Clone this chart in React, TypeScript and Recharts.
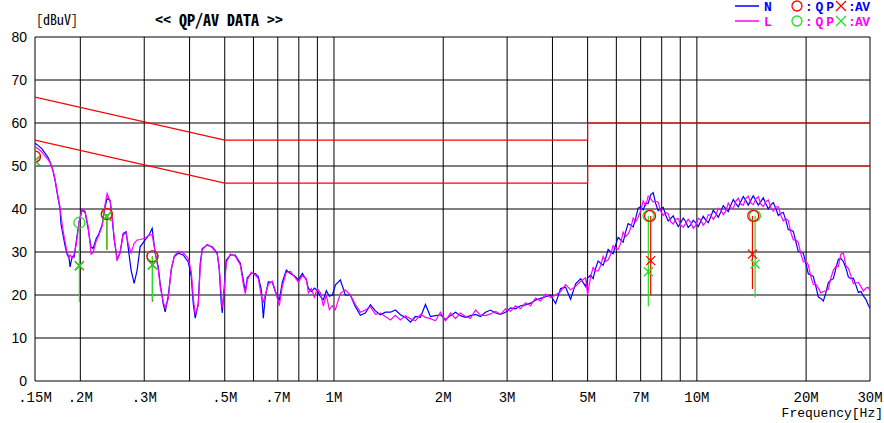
import { ComposedChart, Line, Scatter, XAxis, YAxis, CartesianGrid } from 'recharts';

// measured trace (MHz / dBuV)
const freqMHz = [
  0.15, 0.1529, 0.1568, 0.1598, 0.1629, 0.165, 0.1682, 0.1703, 0.1736, 0.1758,
  0.1769, 0.1792, 0.1815, 0.1838, 0.1862, 0.1874, 0.1898, 0.1922, 0.1946, 0.1984,
  0.2023, 0.2061, 0.2101, 0.2127, 0.2141, 0.2168, 0.221, 0.2252, 0.2296, 0.234,
  0.237, 0.2416, 0.2447, 0.2478, 0.2526, 0.2574, 0.2623, 0.2674, 0.2708, 0.276,
  0.2814, 0.2868, 0.2923, 0.3018, 0.3096, 0.3155, 0.3216, 0.3278, 0.3319, 0.3383,
  0.3426, 0.3492, 0.356, 0.3628, 0.3721, 0.3841, 0.3966, 0.4043, 0.4094, 0.4146,
  0.4226, 0.428, 0.4335, 0.4474, 0.4619, 0.4768, 0.4829, 0.4891, 0.4922, 0.4985,
  0.5049, 0.5179, 0.5346, 0.5519, 0.5625, 0.5697, 0.577, 0.5917, 0.607, 0.6187,
  0.6306, 0.6387, 0.6468, 0.6592, 0.6762, 0.6892, 0.7069, 0.7205, 0.7391, 0.7581,
  0.7825, 0.7975, 0.8181, 0.8391, 0.8498, 0.8662, 0.8828, 0.8999, 0.9171, 0.9347,
  0.9527, 0.971, 0.9898, 1.0088, 1.0413, 1.0749, 1.1096, 1.1454, 1.1824, 1.2205,
  1.2599, 1.3006, 1.3425, 1.3859, 1.4306, 1.4768, 1.5244, 1.5736, 1.6244, 1.6768,
  1.7309, 1.7868, 1.8444, 1.904, 1.9654, 2.0288, 2.0943, 2.1619, 2.2316, 2.3036,
  2.378, 2.4547, 2.5339, 2.6157, 2.7001, 2.7872, 2.8771, 2.97, 3.0658, 3.1647,
  3.2668, 3.3722, 3.481, 3.5933, 3.7093, 3.829, 3.9525, 4.08, 4.2117, 4.3476,
  4.4879, 4.6327, 4.7822, 4.9365, 5.0, 5.0958, 5.1775, 5.2602, 5.3445, 5.4299,
  5.5169, 5.6051, 5.695, 5.786, 5.8787, 5.9727, 6.0684, 6.1654, 6.2642, 6.3643,
  6.4663, 6.5697, 6.675, 6.7817, 6.8904, 7.0005, 7.1127, 7.2264, 7.3422, 7.4596,
  7.5792, 7.7003, 7.8237, 7.9487, 8.0761, 8.2052, 8.3367, 8.47, 8.6058, 8.7433,
  8.8834, 9.0254, 9.1701, 9.3166, 9.4659, 9.6172, 9.7714, 9.9276, 10.087, 10.248,
  10.412, 10.578, 10.748, 10.92, 11.095, 11.272, 11.453, 11.636, 11.823, 12.011,
  12.204, 12.399, 12.598, 12.799, 13.004, 13.212, 13.424, 13.638, 13.857, 14.078,
  14.304, 14.532, 14.765, 15.001, 15.241, 15.485, 15.733, 15.985, 16.241, 16.501,
  16.766, 17.033, 17.306, 17.583, 17.865, 18.15, 18.441, 18.736, 19.036, 19.341,
  19.651, 19.965, 20.285, 20.609, 20.939, 21.274, 21.615, 21.96, 22.312, 22.669,
  23.032, 23.4, 23.775, 24.155, 24.542, 24.935, 25.335, 25.739, 26.152, 26.57,
  26.996, 27.427, 27.867, 28.312, 28.766, 29.226, 29.694, 30.0,
];

const levelN = [
  55.3, 54.8, 54.0, 53.0, 52.0, 51.0, 48.8, 46.7, 42.5, 40.0,
  36.5, 34.0, 31.5, 29.5, 28.5, 26.5, 29.0, 28.8, 32.0, 37.0,
  39.8, 39.2, 35.5, 32.5, 31.2, 30.8, 33.0, 34.3, 36.3, 40.5,
  42.5, 42.0, 38.0, 33.0, 28.3, 29.8, 34.3, 34.7, 31.2, 25.8,
  22.7, 25.8, 31.2, 32.8, 34.0, 35.5, 29.7, 26.6, 22.7, 18.0,
  16.1, 19.7, 25.8, 28.9, 29.7, 29.3, 27.7, 24.3, 18.0, 14.6,
  18.0, 27.4, 30.8, 31.6, 31.2, 29.7, 25.8, 18.0, 15.8, 22.0,
  28.1, 29.3, 29.3, 27.4, 23.5, 20.8, 24.0, 25.0, 25.0, 24.3,
  21.2, 14.6, 19.7, 23.1, 22.9, 20.8, 18.8, 23.0, 25.8, 25.0,
  24.3, 23.5, 25.0, 23.5, 21.6, 20.8, 21.6, 21.0, 19.7, 18.9,
  21.0, 19.7, 20.0, 22.3, 23.5, 20.0, 20.0, 17.3, 15.3, 15.8,
  17.7, 16.3, 15.4, 16.0, 16.0, 16.5, 15.4, 14.8, 13.7, 15.0,
  14.8, 17.8, 15.0, 15.2, 15.4, 14.3, 15.2, 16.0, 15.2, 14.8,
  15.2, 15.5, 15.0, 16.0, 16.5, 15.8, 15.5, 16.0, 17.0, 16.8,
  17.5, 17.7, 18.1, 18.8, 19.2, 19.6, 20.0, 18.0, 21.5, 21.8,
  19.0, 22.6, 23.8, 22.0, 24.0, 24.6, 23.8, 26.2, 27.9, 27.4,
  26.9, 28.5, 30.6, 30.0, 29.6, 31.6, 33.4, 32.8, 32.3, 34.7,
  36.6, 36.3, 35.8, 37.8, 40.2, 40.5, 39.8, 41.3, 41.3, 43.3,
  43.8, 41.3, 39.6, 40.1, 40.4, 38.6, 37.2, 37.8, 38.4, 37.1,
  35.9, 36.8, 37.9, 37.1, 35.7, 36.3, 37.4, 36.8, 35.9, 37.1,
  38.3, 37.4, 36.8, 38.2, 39.7, 39.0, 38.1, 39.3, 40.8, 40.1,
  39.4, 40.9, 42.2, 41.3, 40.5, 41.7, 42.9, 42.0, 40.9, 42.0,
  43.1, 42.0, 40.9, 41.7, 42.6, 41.3, 40.0, 40.9, 41.5, 40.1,
  38.5, 39.0, 39.2, 37.4, 35.2, 35.1, 34.8, 32.4, 30.1, 30.0,
  29.7, 27.4, 24.9, 24.7, 24.3, 22.0, 19.5, 19.2, 18.6, 20.5,
  22.9, 23.5, 23.8, 26.2, 28.3, 28.5, 27.8, 26.3, 24.2, 23.8,
  23.9, 22.3, 20.6, 20.8, 19.8, 19.0, 17.6, 16.9,
];

const levelL = [
  54.5, 54.0, 53.2, 52.3, 51.5, 50.8, 49.0, 47.0, 43.0, 40.5,
  38.5, 35.0, 32.5, 30.0, 28.8, 29.3, 28.5, 29.5, 31.5, 37.0,
  40.0, 39.5, 36.0, 32.0, 29.5, 29.8, 32.5, 34.0, 36.0, 41.0,
  43.6, 41.8, 38.5, 33.5, 28.0, 30.0, 33.8, 34.5, 32.0, 29.8,
  32.0, 32.8, 32.9, 33.2, 34.0, 34.0, 30.0, 26.0, 22.0, 18.5,
  17.0, 19.0, 26.0, 29.0, 30.2, 29.8, 28.5, 25.5, 19.5, 15.5,
  17.5, 26.5, 30.5, 31.8, 31.0, 29.5, 26.5, 20.0, 17.0, 21.0,
  27.5, 29.5, 29.0, 27.0, 22.5, 20.3, 23.5, 25.3, 24.6, 23.8,
  19.7, 18.4, 20.0, 22.5, 23.2, 21.0, 17.5, 22.0, 25.3, 25.5,
  24.0, 23.0, 24.5, 23.8, 20.5, 21.5, 19.5, 21.5, 20.5, 17.4,
  20.0, 16.6, 17.5, 16.6, 20.4, 21.2, 20.0, 17.8, 16.0, 16.5,
  17.3, 15.5, 15.8, 15.0, 14.2, 15.3, 14.2, 15.2, 14.5, 14.0,
  15.5, 14.8, 14.5, 14.0, 16.0, 14.0, 15.8, 14.5, 15.8, 15.0,
  14.6, 16.5, 15.3, 15.2, 15.6, 16.2, 15.5, 16.8, 16.2, 17.5,
  16.8, 18.2, 17.5, 19.3, 18.6, 20.2, 19.4, 20.0, 20.8, 22.4,
  21.2, 22.0, 23.2, 24.0, 20.0, 24.3, 26.4, 25.6, 25.6, 26.8,
  29.0, 27.8, 28.2, 29.4, 31.5, 30.8, 30.6, 32.0, 34.6, 33.6,
  34.2, 35.5, 37.9, 37.0, 38.1, 39.6, 41.9, 40.8, 43.0, 42.4,
  41.6, 41.8, 41.6, 39.5, 38.5, 39.2, 38.9, 37.0, 36.5, 37.6,
  37.8, 36.2, 35.8, 36.6, 37.6, 36.9, 35.5, 36.2, 37.8, 37.5,
  36.2, 36.9, 38.7, 38.6, 37.6, 38.4, 40.2, 39.8, 38.7, 39.5,
  41.4, 40.3, 40.1, 41.8, 42.5, 41.1, 40.9, 42.4, 43.0, 41.4,
  41.0, 42.3, 42.9, 41.2, 40.6, 41.7, 42.1, 40.4, 39.5, 40.5,
  40.5, 38.6, 37.2, 37.8, 37.3, 34.6, 32.8, 32.8, 32.2, 29.6,
  27.7, 27.8, 27.0, 24.3, 22.4, 22.5, 21.6, 20.5, 20.8, 21.0,
  21.3, 23.9, 25.8, 26.6, 26.6, 29.5, 29.8, 26.8, 26.2, 24.5,
  22.6, 22.8, 22.9, 22.0, 20.9, 21.6, 21.8, 20.8,
];

// limit lines
const qpLimitFreq = [0.15, 0.5, 5, 5, 30];
const qpLimitLevel = [66, 56, 56, 60, 60];
const avLimitFreq = [0.15, 0.5, 5, 5, 30];
const avLimitLevel = [56, 46, 46, 50, 50];

// final measurement markers
const nQpFreq = [0.15, 0.2366, 0.316, 7.43, 14.3];
const nQpLevel = [52.2, 38.8, 29.0, 38.4, 38.4];
const nAvFreq = [0.15, 0.1988, 0.2366, 0.316, 7.46, 14.23];
const nAvLevel = [51.2, 26.8, 38.3, 27.0, 28.0, 29.5];
const nStemFreq = [0.15, 0.2366, 0.316, 7.46, 14.23];
const nStemTop = [52.2, 38.8, 29.0, 38.4, 38.4];
const nStemBottom = [43, 30.5, 18.5, 20.0, 21.4];

const lQpFreq = [0.15, 0.1988, 0.2366, 0.316, 7.36, 14.45];
const lQpLevel = [52.2, 36.8, 38.8, 29.0, 38.4, 38.4];
const lAvFreq = [0.15, 0.1988, 0.2366, 0.316, 7.35, 14.47];
const lAvLevel = [51.2, 26.8, 38.3, 27.0, 25.4, 27.2];
const lStemFreq = [0.15, 0.1988, 0.2366, 0.316, 7.35, 14.47];
const lStemBottom = [43, 18.4, 30.5, 18.8, 17.3, 19.4];

const xTicks = [0.15, 0.2, 0.3, 0.4, 0.5, 0.6, 0.7, 0.8, 0.9, 1, 2, 3, 4, 5, 6, 7, 8, 9, 10, 20, 30];
const xTickLabels = ['.15M', '.2M', '.3M', '', '.5M', '', '.7M', '', '', '1M', '2M', '3M', '', '5M', '', '7M', '', '', '10M', '20M', '30M'];
const yTicks = [0, 10, 20, 30, 40, 50, 60, 70, 80];

const N_COLOR = '#0000ff';
const L_COLOR = '#ff00ff';
const RED = '#ff0000';
const GREEN = '#22dd22';
const MONO = "'Noto Sans Mono CJK JP', 'Liberation Mono', monospace";
const LMONO = "'Liberation Mono', monospace";

const pts = (fs: number[], vs: number[]) => fs.map((f, i) => ({ f, v: vs[i] }));

const traceN = pts(freqMHz, levelN);
const traceL = pts(freqMHz, levelL);

const stems = (fs: number[], tops: number[], bottoms: number[]) =>
  fs.flatMap((f, i) => [
    { f, v: tops[i] },
    { f, v: bottoms[i] },
    { f, v: null },
  ]);

const nStems = stems(nStemFreq, nStemTop, nStemBottom);
const lStems = stems(lStemFreq, lQpLevel, lStemBottom);

const circleShape = (color: string) => (props: any) => (
  <circle cx={props.cx} cy={props.cy} r={5.5} fill="none" stroke={color} strokeWidth={1.3} />
);

const crossShape = (color: string) => (props: any) => {
  const { cx, cy } = props;
  const s = 4.5;
  return (
    <path
      d={`M${cx - s},${cy - s}L${cx + s},${cy + s}M${cx + s},${cy - s}L${cx - s},${cy + s}`}
      stroke={color}
      strokeWidth={1.3}
      fill="none"
    />
  );
};

const XTick = (props: any) => {
  const idx = xTicks.indexOf(props.payload.value);
  const label = idx >= 0 ? xTickLabels[idx] : '';
  return (
    <text x={props.x} y={402} textAnchor="middle" fontSize={14} fontFamily={LMONO} fill="#000">
      {label}
    </text>
  );
};

function LegendRow({ y, name, lineColor, markColor }: { y: number; name: string; lineColor: string; markColor: string }) {
  return (
    <g fontFamily={LMONO} fontSize={13} fontWeight="bold" fill={lineColor}>
      <line x1={735} x2={759} y1={y - 5} y2={y - 5} stroke={lineColor} strokeWidth={1.5} />
      <text x={764} y={y}>{name}</text>
      <circle cx={797} cy={y - 5} r={5} fill="none" stroke={markColor} strokeWidth={1.3} />
      <text x={805} y={y} textLength={29} lengthAdjust="spacing">:QP</text>
      <path
        d={`M${836},${y - 10}L${846},${y}M${846},${y - 10}L${836},${y}`}
        stroke={markColor}
        strokeWidth={1.3}
      />
      <text x={848} y={y} textLength={22} lengthAdjust="spacing">:AV</text>
    </g>
  );
}

export default function App() {
  return (
    <div style={{ position: 'absolute', left: 0, top: 0, width: 884, height: 423, background: '#fff' }}>
      <ComposedChart width={884} height={423} margin={{ top: 37, right: 14, left: 0, bottom: 0 }}>
        <CartesianGrid stroke="#000" strokeWidth={1} />
        <XAxis
          dataKey="f"
          type="number"
          scale="log"
          domain={[0.15, 30]}
          ticks={xTicks}
          allowDataOverflow
          axisLine={false}
          tickLine={false}
          height={42}
          tick={<XTick />}
          interval={0}
        />
        <YAxis
          type="number"
          domain={[0, 80]}
          ticks={yTicks}
          width={35}
          axisLine={false}
          tickLine={false}
          tickSize={0}
          tickMargin={8}
          interval={0}
          tick={{ fill: '#000', fontSize: 14, fontFamily: "'Liberation Sans', sans-serif" }}
        />
        <Line data={pts(qpLimitFreq, qpLimitLevel)} dataKey="v" stroke={RED} strokeWidth={1.2} dot={false} isAnimationActive={false} />
        <Line data={pts(avLimitFreq, avLimitLevel)} dataKey="v" stroke={RED} strokeWidth={1.2} dot={false} isAnimationActive={false} />
        <Line data={traceN} dataKey="v" stroke={N_COLOR} strokeWidth={1.2} dot={false} isAnimationActive={false} />
        <Line data={traceL} dataKey="v" stroke={L_COLOR} strokeWidth={1.2} dot={false} isAnimationActive={false} />
        <Line data={nStems} dataKey="v" stroke={RED} strokeWidth={1.2} dot={false} isAnimationActive={false} />
        <Line data={lStems} dataKey="v" stroke={GREEN} strokeWidth={1.2} dot={false} isAnimationActive={false} />
        <Scatter data={pts(lQpFreq, lQpLevel)} dataKey="v" shape={circleShape(GREEN)} isAnimationActive={false} />
        <Scatter data={pts(nQpFreq, nQpLevel)} dataKey="v" shape={circleShape(RED)} isAnimationActive={false} />
        <Scatter data={pts(nAvFreq, nAvLevel)} dataKey="v" shape={crossShape(RED)} isAnimationActive={false} />
        <Scatter data={pts(lAvFreq, lAvLevel)} dataKey="v" shape={crossShape(GREEN)} isAnimationActive={false} />
      </ComposedChart>

      <svg width={884} height={423} style={{ position: 'absolute', left: 0, top: 0, pointerEvents: 'none' }}>
        <text x={36} y={25} fontFamily={MONO} fontSize={14}>[dBuV]</text>
        <text x={155} y={26} fontFamily={MONO} fontSize={16} fontWeight="bold">{'<< QP/AV DATA >>'}</text>
        <text x={883} y={417} fontFamily={LMONO} fontSize={13} textAnchor="end">Frequency[Hz]</text>
        <LegendRow y={11} name="N" lineColor={N_COLOR} markColor={RED} />
        <LegendRow y={26} name="L" lineColor={L_COLOR} markColor={GREEN} />
      </svg>
    </div>
  );
}
